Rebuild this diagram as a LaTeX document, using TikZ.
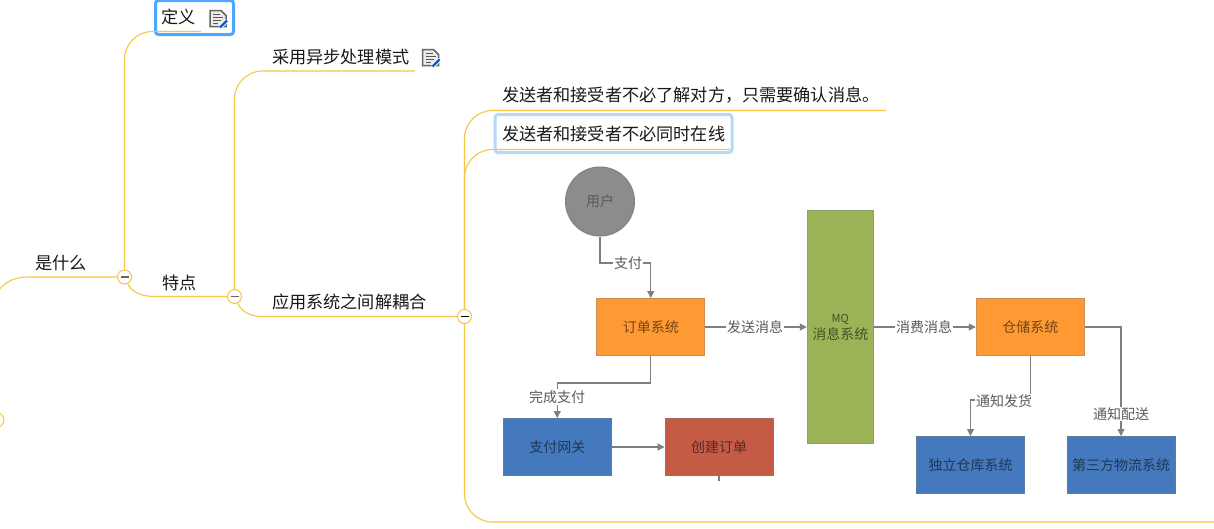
\documentclass[tikz,border=0pt]{standalone}
\usepackage{fontspec}
\setmainfont{Noto Sans CJK SC}
\usetikzlibrary{arrows.meta}
\definecolor{branchc}{HTML}{F6C644}
\definecolor{flowc}{HTML}{7F7F7F}
\definecolor{flowtxt}{HTML}{5A5A5A}
\definecolor{selc}{HTML}{4DA6FF}
\definecolor{selc2}{HTML}{B5D8FB}
\definecolor{orangec}{HTML}{FF9933}
\definecolor{greenc}{HTML}{9BB356}
\definecolor{bluec}{HTML}{4579BE}
\definecolor{redc}{HTML}{C55A45}
\definecolor{grayc}{HTML}{8C8C8C}
\tikzset{
  x=1pt,y=-1pt,
  branch/.style={draw=branchc,line width=1.1pt},
  topic/.style={font=\fontsize{17.15}{17}\selectfont,text=black!90,inner sep=0pt,anchor=west},
  toggle/.style={circle,draw=branchc,fill=white,line width=1pt,minimum size=14pt,inner sep=0pt,font=\fontsize{1}{1}\selectfont},
  flowbox/.style={draw=#1!60!gray,fill=#1,line width=1pt,minimum width=108pt,minimum height=57pt,inner sep=0pt,text=#1!45!black,font=\fontsize{14}{16}\selectfont,align=center},
  flow/.style={draw=flowc,line width=1.1pt},
  flowarrow/.style={flow,-{Triangle[length=7pt,width=7pt]}},
  flowlabel/.style={fill=white,inner sep=1pt,text=flowtxt,font=\fontsize{14}{14}\selectfont},
  noteicon/.pic={
    \draw[draw=black!60,fill=black!8,line width=1.5pt] (-8,-8) -- (3,-8) -- (8,-3) -- (8,8) -- (-8,8) -- cycle;
    \fill[black!65] (-5,-5) rectangle (2,-3.5);
    \fill[black!65] (-5,-2) rectangle (5,-0.5);
    \fill[black!65] (-5,1) rectangle (3,2.5);
    \fill[black!65] (-5,4) rectangle (0,5.5);
    \draw[draw=white,line width=4pt] (2,9) -- (9,2);
    \draw[draw=blue!55!cyan!80!black,line width=2.4pt] (2,9) -- (9,2);
  }
}
\begin{document}
\begin{tikzpicture}
\path[use as bounding box,fill=white] (0,0) rectangle (1214,528);

% selected topics
\node[draw=selc,line width=3pt,rounded corners=3pt,fill=white,minimum width=78pt,minimum height=34pt,inner sep=0pt] (ding) at (194.5,17.5) {};
\node[draw=selc2,line width=3pt,rounded corners=3pt,fill=white,minimum width=237pt,minimum height=38pt,inner sep=0pt] (btbox) at (613.5,133.5) {};

% topic texts
\node[topic] (tding) at (161,17) {定义};
\node[topic] (tyibu) at (272,57) {采用异步处理模式};
\node[topic] (tfasong) at (502,95) {发送者和接受者不必了解对方，只需要确认消息。};
\node[topic] (ttongshi) at (502,134) {发送者和接受者不必同时在线};
\node[topic] (tshi) at (35,263) {是什么};
\node[topic] (ttedian) at (162,283) {特点};
\node[topic] (tyingyong) at (272,302) {应用系统之间解耦合};

% icons
\pic at (218,18.5) {noteicon};
\pic at (430.5,57.5) {noteicon};

% toggles
\node[toggle] (c0) at (-3,420) {};
\node[toggle] (c1) at (124.5,277) {\textcolor{black!60}{\rule[0.3pt]{8pt}{1.5pt}}};
\node[toggle] (c2) at (234.5,296.5) {\textcolor{black!60}{\rule[0.3pt]{8pt}{1.5pt}}};
\node[toggle] (c3) at (464.5,316.5) {\textcolor{black}{\rule[0.3pt]{8pt}{1.5pt}}};

% free ends of the branches
\coordinate (eding) at (201,31.5);
\coordinate (eyibu) at (415,71);
\coordinate (efasong) at (886,110.5);
\coordinate (etongshi) at (730,149.5);
\coordinate (eimg) at (1214,522);
\coordinate (eleft) at (-4,294);

% branches
\draw[branch] (c1.west) -- (28,277) .. controls (13,277) and (3,283) .. (eleft);
\draw[branch,rounded corners=28pt] (c1.north) |- (eding);
\draw[branch] (c1.-65) .. controls (131,291) and (140,296.5) .. (155,296.5) -- (c2.west);
\draw[branch,rounded corners=28pt] (c2.north) |- (eyibu);
\draw[branch] (c2.-65) .. controls (241,310) and (248,316.5) .. (262,316.5) -- (c3.west);
\draw[branch,rounded corners=28pt] (c3.north) |- (efasong);
\draw[branch,rounded corners=28pt] (c3.north) |- (etongshi);
\draw[branch,rounded corners=28pt] (c3.south) |- (eimg);

% embedded diagram
\node[circle,draw=black!50,fill=grayc,line width=1pt,minimum size=69pt,inner sep=0pt,text=black!65,font=\fontsize{14}{14}\selectfont] (user) at (600,201.5) {用户};
\node[flowbox=orangec] (order) at (650.75,327) {订单系统};
\node[flowbox=greenc,minimum width=66pt,minimum height=233pt] (mq) at (840.25,327) {{\fontsize{11}{11}\selectfont MQ}\\[1pt]消息系统};
\node[flowbox=orangec] (store) at (1030.25,327) {仓储系统};
\node[flowbox=bluec] (pay) at (557.25,447) {支付网关};
\node[flowbox=redc] (create) at (719,447) {创建订单};
\node[flowbox=bluec] (indep) at (970.5,465) {独立仓库系统};
\node[flowbox=bluec] (third) at (1121,465) {第三方物流系统};

\coordinate (tick) at (719,481);

\draw[flowarrow] (user.south) |- (628,263) -| (order.north);
\node[flowlabel] (lzhifu) at (628,263) {支付};
\draw[flowarrow] (order.east) -- (mq.west |- order.east);
\node[flowlabel] (lfasong) at (755,327) {发送消息};
\draw[flowarrow] (order.south) |- (557.25,383) -- (pay.north);
\node[flowlabel] (lwancheng) at (557,397) {完成支付};
\draw[flowarrow] (pay.east) -- (create.west);
\draw[flow] (create.south) -- (tick);
\draw[flowarrow] (mq.east |- store.west) -- (store.west);
\node[flowlabel] (lxiaofei) at (924,327) {消费消息};
\draw[flowarrow] (store.south) |- (1000,400) -| (indep.north);
\node[flowlabel] (lfahuo) at (1004,401) {通知发货};
\draw[flowarrow] (store.east) -| (third.north);
\node[flowlabel] (lpeisong) at (1121,414) {通知配送};
\end{tikzpicture}
\end{document}
